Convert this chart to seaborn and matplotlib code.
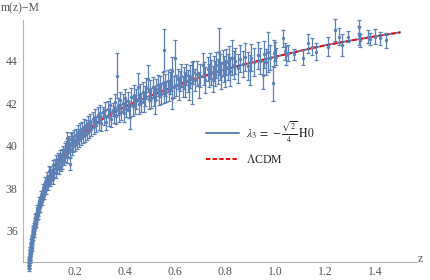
import matplotlib
matplotlib.use("Agg")
import matplotlib.pyplot as plt
import pandas as pd
import seaborn as sns
from matplotlib.ticker import FixedLocator, MultipleLocator

# supernova data: (z, m(z)-M, error)
sn_low = [
    (0.0150, 34.25, 0.14), (0.0155, 34.40, 0.15), (0.0160, 34.35, 0.13), (0.0165, 34.55, 0.14),
    (0.0170, 34.48, 0.15), (0.0175, 34.65, 0.13), (0.0180, 34.62, 0.14), (0.0185, 34.78, 0.14),
    (0.0190, 34.70, 0.13), (0.0195, 34.90, 0.14), (0.0200, 34.82, 0.13), (0.0205, 35.00, 0.13),
    (0.0210, 34.95, 0.14), (0.0215, 35.10, 0.13), (0.0220, 35.02, 0.13), (0.0230, 35.25, 0.13),
    (0.0235, 35.18, 0.12), (0.0240, 35.35, 0.13), (0.0250, 35.30, 0.12), (0.0255, 35.48, 0.12),
    (0.0260, 35.42, 0.13), (0.0270, 35.60, 0.12), (0.0275, 35.52, 0.12), (0.0280, 35.70, 0.12),
    (0.0290, 35.65, 0.12), (0.0300, 35.82, 0.12), (0.0305, 35.70, 0.11), (0.0310, 35.90, 0.12),
    (0.0320, 35.85, 0.12), (0.0330, 36.02, 0.11), (0.0340, 35.98, 0.12), (0.0350, 36.15, 0.11),
    (0.0360, 36.10, 0.12), (0.0370, 36.28, 0.11), (0.0380, 36.22, 0.11), (0.0390, 36.40, 0.12),
    (0.0400, 36.35, 0.11), (0.0410, 36.50, 0.11), (0.0420, 36.42, 0.12), (0.0430, 36.60, 0.11),
    (0.0440, 36.55, 0.12), (0.0450, 36.72, 0.12), (0.0460, 36.65, 0.12), (0.0480, 36.85, 0.12),
    (0.0500, 36.82, 0.12), (0.0510, 37.00, 0.12), (0.0530, 36.98, 0.13), (0.0550, 37.18, 0.12),
    (0.0570, 37.15, 0.13), (0.0590, 37.38, 0.13), (0.0610, 37.30, 0.13), (0.0630, 37.50, 0.13),
    (0.0650, 37.45, 0.14), (0.0670, 37.65, 0.14), (0.0690, 37.60, 0.14), (0.0710, 37.80, 0.14),
    (0.0730, 37.72, 0.15), (0.0750, 37.95, 0.14), (0.0770, 37.90, 0.15), (0.0790, 38.10, 0.15),
    (0.0810, 38.02, 0.15), (0.0830, 38.22, 0.16), (0.0850, 38.12, 0.15), (0.0870, 38.30, 0.16),
    (0.0900, 38.25, 0.16), (0.0920, 38.45, 0.17), (0.0950, 38.40, 0.16), (0.0980, 38.60, 0.17),
]

sn_low_spread = [
    (0.022, 35.25, 0.18), (0.026, 35.20, 0.17), (0.031, 36.05, 0.16), (0.035, 35.90, 0.18),
    (0.040, 36.60, 0.17), (0.044, 36.35, 0.18), (0.048, 37.05, 0.18), (0.052, 36.75, 0.19),
    (0.056, 37.40, 0.18), (0.060, 37.10, 0.20), (0.064, 37.70, 0.19), (0.068, 37.40, 0.20),
    (0.072, 38.00, 0.20), (0.076, 37.70, 0.21), (0.080, 38.30, 0.21), (0.084, 37.95, 0.22),
    (0.088, 38.55, 0.22), (0.093, 38.15, 0.22), (0.097, 38.80, 0.23), (0.099, 38.35, 0.22),
]

sn_near = [
    (0.101, 38.80, 0.20), (0.104, 38.40, 0.22), (0.107, 38.72, 0.19), (0.110, 38.45, 0.24),
    (0.113, 39.10, 0.21), (0.116, 38.75, 0.20), (0.119, 39.15, 0.23), (0.122, 38.70, 0.22),
    (0.125, 39.30, 0.25), (0.128, 38.95, 0.21), (0.131, 39.40, 0.24), (0.134, 38.90, 0.22),
    (0.137, 39.25, 0.26), (0.140, 39.55, 0.23), (0.143, 39.05, 0.25), (0.146, 39.60, 0.24),
    (0.149, 39.20, 0.27), (0.152, 39.75, 0.25), (0.155, 39.35, 0.24), (0.158, 39.85, 0.28),
    (0.161, 39.50, 0.26), (0.164, 39.95, 0.27), (0.167, 39.45, 0.25), (0.168, 40.35, 0.30),
    (0.170, 40.05, 0.28), (0.173, 39.70, 0.26), (0.176, 40.15, 0.29), (0.178, 39.15, 0.28),
    (0.180, 39.75, 0.27), (0.183, 40.30, 0.30), (0.186, 39.85, 0.27), (0.189, 40.35, 0.31),
    (0.192, 40.00, 0.28), (0.195, 40.45, 0.30), (0.198, 40.05, 0.29), (0.202, 40.50, 0.31),
    (0.206, 40.15, 0.30), (0.210, 40.65, 0.32), (0.214, 40.25, 0.30), (0.218, 40.75, 0.33),
    (0.222, 40.35, 0.31), (0.226, 40.80, 0.33), (0.230, 40.45, 0.30), (0.234, 40.90, 0.34),
    (0.238, 40.50, 0.32), (0.242, 41.00, 0.22), (0.246, 40.60, 0.33), (0.250, 41.05, 0.34),
    (0.255, 40.70, 0.33), (0.260, 41.15, 0.35), (0.265, 40.80, 0.34), (0.270, 41.25, 0.35),
    (0.275, 40.90, 0.34), (0.280, 41.35, 0.36), (0.285, 41.00, 0.35), (0.290, 41.45, 0.36),
    (0.295, 41.10, 0.35),
]

sn_mid = [
    (0.300, 41.55, 0.35), (0.305, 41.05, 0.33), (0.310, 41.60, 0.22), (0.315, 41.35, 0.38),
    (0.320, 41.70, 0.36), (0.325, 41.10, 0.35), (0.330, 41.75, 0.38), (0.335, 41.35, 0.40),
    (0.340, 41.90, 0.37), (0.345, 41.25, 0.38), (0.350, 41.70, 0.32), (0.355, 41.45, 0.40),
    (0.360, 42.05, 0.38), (0.365, 41.40, 0.39), (0.367, 43.30, 1.05), (0.370, 41.85, 0.40),
    (0.375, 41.55, 0.42), (0.380, 42.15, 0.40), (0.385, 41.60, 0.38), (0.390, 42.00, 0.42),
    (0.395, 41.55, 0.41), (0.400, 42.25, 0.43), (0.405, 41.75, 0.40), (0.410, 42.10, 0.44),
    (0.415, 41.70, 0.41), (0.420, 41.35, 0.55), (0.425, 42.30, 0.44), (0.430, 41.85, 0.43),
    (0.435, 42.40, 0.45), (0.440, 41.95, 0.44), (0.445, 42.20, 0.46), (0.450, 42.77, 0.66),
    (0.455, 41.95, 0.45), (0.460, 42.45, 0.46), (0.465, 42.05, 0.45), (0.470, 42.55, 0.47),
    (0.475, 42.05, 0.46), (0.480, 42.35, 0.47), (0.485, 42.70, 0.48), (0.490, 43.15, 0.64),
    (0.495, 42.20, 0.47), (0.500, 42.60, 0.48), (0.505, 42.25, 0.47), (0.510, 42.75, 0.49),
    (0.515, 42.35, 0.48), (0.520, 42.15, 0.66), (0.525, 42.65, 0.49), (0.530, 42.85, 0.50),
    (0.535, 42.40, 0.48), (0.540, 42.80, 0.50), (0.545, 42.45, 0.49), (0.556, 44.50, 1.00),
    (0.550, 42.95, 0.51), (0.555, 42.50, 0.50), (0.560, 42.85, 0.51), (0.565, 42.55, 0.50),
    (0.570, 43.05, 0.52), (0.575, 42.60, 0.51), (0.580, 42.95, 0.52), (0.585, 43.10, 0.53),
    (0.588, 43.50, 0.70), (0.589, 42.25, 0.50), (0.600, 44.15, 0.85), (0.595, 42.75, 0.52),
]

sn_far = [
    (0.605, 42.85, 0.50), (0.610, 43.15, 0.48), (0.615, 42.70, 0.55), (0.620, 43.05, 0.46),
    (0.625, 43.30, 0.55), (0.630, 42.80, 0.48), (0.635, 43.20, 0.52), (0.640, 42.90, 0.58),
    (0.645, 43.35, 0.48), (0.650, 43.05, 0.52), (0.655, 42.75, 0.60), (0.660, 43.25, 0.54),
    (0.668, 42.95, 1.00), (0.672, 43.45, 0.55), (0.680, 43.10, 0.52), (0.688, 43.40, 0.58),
    (0.695, 42.85, 0.60), (0.700, 43.30, 0.55), (0.710, 43.80, 0.56), (0.715, 43.40, 0.56),
    (0.720, 43.10, 0.60), (0.730, 43.60, 0.57), (0.735, 43.30, 0.55), (0.740, 43.75, 0.60),
    (0.745, 43.45, 0.58), (0.750, 43.15, 0.62), (0.755, 43.65, 0.58), (0.760, 43.40, 0.60),
    (0.765, 43.80, 0.62), (0.770, 43.50, 0.58), (0.776, 44.43, 1.10), (0.780, 43.70, 0.62),
    (0.785, 43.30, 0.65), (0.790, 43.90, 0.60), (0.795, 43.60, 0.62), (0.800, 43.40, 0.65),
    (0.805, 43.95, 0.62), (0.810, 43.70, 0.60), (0.815, 44.05, 0.65), (0.820, 43.50, 0.68),
    (0.828, 44.15, 0.82), (0.835, 43.80, 0.65), (0.840, 44.00, 0.62), (0.850, 43.65, 0.68),
    (0.860, 44.10, 0.65), (0.870, 43.85, 0.60), (0.880, 44.20, 0.66), (0.890, 43.75, 0.65),
    (0.900, 43.55, 0.70), (0.905, 44.15, 0.62), (0.915, 43.95, 0.65), (0.930, 44.25, 0.65),
    (0.940, 44.00, 0.60), (0.950, 43.35, 0.66), (0.955, 44.30, 0.65), (0.965, 43.95, 0.62),
    (0.972, 44.40, 0.94), (0.980, 44.15, 0.60), (0.990, 42.95, 0.82), (0.995, 44.35, 0.65),
]

sn_high = [
    (1.000, 44.45, 0.45), (1.005, 44.20, 0.42), (1.031, 45.05, 0.39), (1.038, 44.45, 0.40),
    (1.045, 44.25, 0.45), (1.050, 44.35, 0.38), (1.077, 44.30, 0.27), (1.113, 44.14, 0.35),
    (1.133, 44.82, 0.43), (1.146, 44.66, 0.40), (1.163, 44.42, 0.40), (1.213, 44.66, 0.45),
    (1.240, 45.44, 0.51), (1.256, 45.13, 0.40), (1.267, 44.74, 0.50), (1.293, 45.13, 0.25),
    (1.333, 45.60, 0.30), (1.335, 45.20, 0.45), (1.340, 44.97, 0.30), (1.370, 45.13, 0.30),
    (1.380, 45.02, 0.30), (1.400, 45.13, 0.35), (1.420, 45.05, 0.30), (1.444, 44.97, 0.35),
]

# model curves (they overlap)
line_z = [0.015, 0.02, 0.03, 0.04, 0.05, 0.06, 0.077, 0.1, 0.13, 0.185, 0.25, 0.3, 0.4,
          0.5, 0.6, 0.654, 0.8, 0.9, 0.972, 1.1, 1.2, 1.3, 1.4, 1.5]
model_mu = [34.25, 34.85, 35.75, 36.4, 36.9, 37.35, 38.0, 38.55, 39.1, 40.0, 40.75, 41.2, 41.85,
            42.35, 42.8, 43.05, 43.6, 43.9, 44.11, 44.47, 44.73, 44.95, 45.15, 45.34]
lcdm_mu = [34.25, 34.85, 35.75, 36.4, 36.9, 37.35, 38.0, 38.55, 39.1, 40.0, 40.75, 41.2, 41.85,
           42.35, 42.8, 43.05, 43.6, 43.9, 44.11, 44.47, 44.73, 44.95, 45.15, 45.34]

x_ticks = [0.2, 0.4, 0.6, 0.8, 1.0, 1.2, 1.4]
y_ticks = [36, 38, 40, 42, 44]

df = pd.DataFrame(sn_low + sn_low_spread + sn_near + sn_mid + sn_far + sn_high,
                  columns=["z", "mu", "err"])

sns.set_theme(style="white")
plt.rcParams["font.family"] = ["Liberation Serif", "DejaVu Serif"]
plt.rcParams["mathtext.fontset"] = "stix"

BLUE = "#5e81b5"
AXIS = "#b3b3b3"
TXT = "#555555"

fig = plt.figure(figsize=(4.3, 2.8), dpi=100)
ax = fig.add_axes([23.3 / 430, 5 / 280, (417 - 23.3) / 430, 255 / 280])
ax.set_xlim(-0.0068, 1.5668)
ax.set_ylim(33.92, 45.92)

# curves sit underneath the data, as in the original
sns.lineplot(x=line_z, y=model_mu, color=BLUE, lw=1.4, ax=ax, zorder=1,
             label=r"$\lambda_3\,=\,-\frac{\sqrt{2}}{4}\,\mathrm{H0}$")
sns.lineplot(x=line_z, y=lcdm_mu, color="#ff0000", lw=1.4, ax=ax, zorder=1.5,
             linestyle=(0, (2.2, 1.2)), label=r"$\Lambda$CDM")
ax.errorbar(df["z"], df["mu"], yerr=df["err"], fmt="none", ecolor=BLUE,
            elinewidth=0.9, capsize=1.6, capthick=0.9, zorder=2, clip_on=False)
sns.scatterplot(data=df, x="z", y="mu", color=BLUE, s=6, linewidth=0, ax=ax, zorder=3,
                clip_on=False)

ax.set_xlabel("")
ax.set_ylabel("")
for s in ["top", "right"]:
    ax.spines[s].set_visible(False)
ax.spines["bottom"].set_position(("data", 34.54))
ax.spines["left"].set_bounds(34.54, 45.92)
for s in ["bottom", "left"]:
    ax.spines[s].set_color(AXIS)
    ax.spines[s].set_linewidth(0.8)

ax.xaxis.set_major_locator(FixedLocator(x_ticks))
ax.xaxis.set_minor_locator(MultipleLocator(0.05))
ax.yaxis.set_major_locator(FixedLocator(y_ticks))
ax.yaxis.set_minor_locator(MultipleLocator(0.5))
ax.set_xticklabels([f"{t:.1f}" for t in x_ticks])
ax.set_yticklabels([str(t) for t in y_ticks])
ax.tick_params(which="major", direction="in", length=4, width=0.6, color=AXIS,
               labelcolor=TXT, labelsize=8.5)
ax.tick_params(which="minor", direction="in", length=2.2, width=0.5, color=AXIS)
ax.tick_params(axis="x", which="both", pad=3)
ax.tick_params(axis="y", which="both", pad=4)
ax.grid(False)

fig.text(0.002, 1 - 8 / 280, "m(z)\u2212M", ha="left", va="center", fontsize=8.5, color=TXT)
fig.text(420 / 430, 1 - 259 / 280, "z", ha="center", va="center", fontsize=8.5, color=TXT)

ax.legend(loc="upper left", bbox_to_anchor=(200 / 430, 1 - 113 / 280),
          bbox_transform=fig.transFigure, frameon=False, fontsize=8.5,
          handlelength=2.8, handletextpad=0.6, labelspacing=0.75, borderpad=0,
          labelcolor="#222222")

fig.savefig("out.png", dpi=100, facecolor="white")
